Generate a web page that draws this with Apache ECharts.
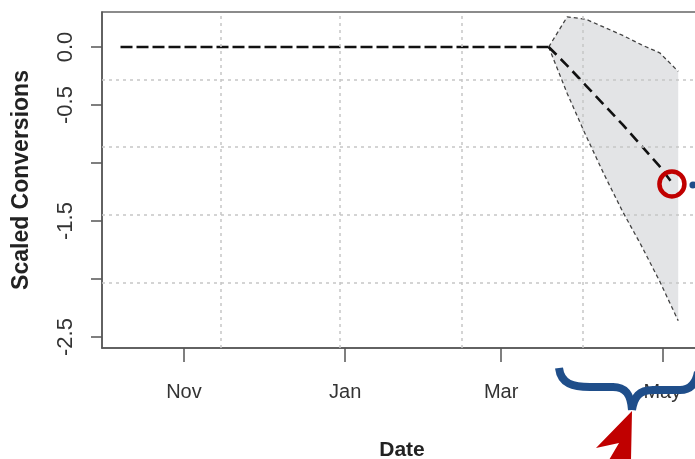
<!DOCTYPE html>
<html>
<head>
<meta charset="utf-8">
<script src="https://cdn.jsdelivr.net/npm/echarts@6/dist/echarts.min.js"></script>
<style>
html, body { margin: 0; padding: 0; background: #fff; }
#chart { width: 695px; height: 459px; }
</style>
</head>
<body>
<div id="chart"></div>
<script>
// flat part of the scaled series (before the change)
var baseDates = ['2017-10-08', '2018-03-19'];
var baseValues = [0, 0];
// mean after the change
var meanDates = ['2018-03-19', '2018-03-26', '2018-04-02', '2018-04-09', '2018-04-16', '2018-04-23', '2018-04-30', '2018-05-05'];
var meanValues = [0, -0.16, -0.33, -0.50, -0.67, -0.85, -1.03, -1.18];
// interval band
var bandDates = ['2018-03-19', '2018-03-26', '2018-04-02', '2018-04-09', '2018-04-16', '2018-04-23', '2018-04-30', '2018-05-07'];
var upperValues = [0, 0.26, 0.24, 0.17, 0.10, 0.02, -0.05, -0.21];
var lowerValues = [0, -0.40, -0.76, -1.10, -1.42, -1.71, -2.02, -2.36];
// axes
var monthTicks = ['2017-11-01', '2018-01-01', '2018-03-01', '2018-05-01'];
var monthNames = ['Jan', 'Feb', 'Mar', 'Apr', 'May', 'Jun', 'Jul', 'Aug', 'Sep', 'Oct', 'Nov', 'Dec'];
var yTicks = [0, -0.5, -1, -1.5, -2, -2.5];
var yLabels = [0, -0.5, -1.5, -2.5];
// dotted grid
var gridDates = ['2017-11-15', '2017-12-30', '2018-02-14', '2018-04-01'];
var gridValues = [-0.276, -0.862, -1.448, -2.034];

// dates go on a plain value axis as day stamps
function ts(s) { return new Date(s + 'T00:00:00').getTime(); }
function pairs(d, v) {
    var out = [];
    for (var i = 0; i < d.length; i++) out.push([ts(d[i]), v[i]]);
    return out;
}
var bandData = [];
for (var i = 0; i < bandDates.length; i++) bandData.push([ts(bandDates[i]), lowerValues[i], upperValues[i]]);

var markData = [];
gridDates.forEach(function (d) { markData.push({ xAxis: ts(d) }); });
gridValues.forEach(function (v) { markData.push({ yAxis: v }); });

var chart = echarts.init(document.getElementById('chart'));
var option = {
    animation: false,
    grid: {
        left: 102, right: -7, top: 12, bottom: 111,
        outerBoundsMode: 'none', containLabel: false,
        show: true, borderColor: '#666', borderWidth: 1.5
    },
    xAxis: {
        type: 'value',
        min: ts('2017-10-01'),
        max: ts('2018-05-16'),
        name: 'Date',
        nameLocation: 'middle',
        nameGap: 92,
        nameTextStyle: { fontFamily: 'Liberation Sans', fontWeight: 'bold', fontSize: 21, color: '#222' },
        axisLine: { show: true, onZero: false, lineStyle: { color: '#555', width: 1.5 } },
        axisTick: { show: true, length: 14, customValues: monthTicks.map(ts), lineStyle: { color: '#555', width: 1.5 } },
        axisLabel: {
            customValues: monthTicks.map(ts),
            margin: 34,
            fontSize: 20,
            fontFamily: 'Liberation Sans',
            color: '#333',
            formatter: function (v) { return monthNames[new Date(v).getMonth()]; }
        },
        splitLine: { show: false }
    },
    yAxis: {
        type: 'value',
        min: -2.5948,
        max: 0.3017,
        name: 'Scaled Conversions',
        nameLocation: 'middle',
        nameGap: 69,
        nameTextStyle: { fontFamily: 'Liberation Sans', fontWeight: 'bold', fontSize: 23, color: '#222' },
        axisLine: { show: true, onZero: false, lineStyle: { color: '#555', width: 1.5 } },
        axisTick: { show: true, length: 11, customValues: yTicks, lineStyle: { color: '#555', width: 1.5 } },
        axisLabel: {
            customValues: yLabels,
            rotate: 90,
            margin: 25,
            fontSize: 22,
            fontFamily: 'Liberation Sans',
            color: '#333',
            formatter: function (v) { return v.toFixed(1); }
        },
        splitLine: { show: false }
    },
    series: [
        {
            name: 'band', type: 'custom', data: bandData, silent: true, z: 1,
            renderItem: function (params, api) {
                if (params.dataIndex !== 0) return null;
                var pts = [];
                for (var k = 0; k < bandData.length; k++) pts.push(api.coord([bandData[k][0], bandData[k][2]]));
                for (var k = bandData.length - 1; k >= 0; k--) pts.push(api.coord([bandData[k][0], bandData[k][1]]));
                return { type: 'polygon', shape: { points: pts }, style: { fill: '#e3e4e6' } };
            }
        },
        {
            name: 'upper', type: 'line', data: pairs(bandDates, upperValues), symbol: 'none',
            lineStyle: { color: '#444', width: 1.3, type: [4, 3] }, z: 3
        },
        {
            name: 'lower', type: 'line', data: pairs(bandDates, lowerValues), symbol: 'none',
            lineStyle: { color: '#444', width: 1.3, type: [4, 3] }, z: 3
        },
        {
            name: 'base', type: 'line', data: pairs(baseDates, baseValues), symbol: 'none',
            lineStyle: { color: '#111', width: 2.6, type: [12, 4] }, z: 4,
            markLine: {
                silent: true, symbol: 'none', animation: false,
                label: { show: false },
                lineStyle: { color: '#c6c6c6', width: 1.5, type: [3, 4] },
                data: markData
            }
        },
        {
            name: 'mean', type: 'line', data: pairs(meanDates, meanValues), symbol: 'none',
            lineStyle: { color: '#111', width: 2.6, type: [11, 6] }, z: 4
        }
    ]
};
chart.setOption(option);

// annotations
var last = meanDates.length - 1;
var pt = chart.convertToPixel({ gridIndex: 0 }, [ts(meanDates[last]), meanValues[last]]);
var blue = '#1f4e8a';
var red = '#c00000';
chart.setOption({
    graphic: [
        { type: 'circle', z: 100, shape: { cx: pt[0] - 1, cy: pt[1], r: 12.5 }, style: { fill: 'none', stroke: red, lineWidth: 4.5 } },
        { type: 'circle', z: 100, shape: { cx: pt[0] + 20, cy: pt[1] + 1, r: 3.5 }, style: { fill: blue } },
        { type: 'bezierCurve', z: 100, shape: { x1: 559, y1: 368, cpx1: 561, cpy1: 384, cpx2: 573, cpy2: 387, x2: 590, y2: 387 }, style: { stroke: blue, lineWidth: 8, fill: 'none' } },
        { type: 'line', z: 100, shape: { x1: 589, y1: 387, x2: 614, y2: 387 }, style: { stroke: blue, lineWidth: 8 } },
        { type: 'bezierCurve', z: 100, shape: { x1: 613, y1: 387, cpx1: 626, cpy1: 387, cpx2: 631, cpy2: 395, x2: 632, y2: 410 }, style: { stroke: blue, lineWidth: 8, fill: 'none' } },
        { type: 'bezierCurve', z: 100, shape: { x1: 632, y1: 410, cpx1: 634, cpy1: 397, cpx2: 639, cpy2: 390, x2: 653, y2: 390 }, style: { stroke: blue, lineWidth: 8, fill: 'none' } },
        { type: 'line', z: 100, shape: { x1: 652, y1: 390, x2: 681, y2: 390 }, style: { stroke: blue, lineWidth: 8 } },
        { type: 'bezierCurve', z: 100, shape: { x1: 680, y1: 390, cpx1: 691, cpy1: 390, cpx2: 696, cpy2: 383, x2: 698, y2: 372 }, style: { stroke: blue, lineWidth: 8, fill: 'none' } },
        { type: 'polygon', z: 101, shape: { points: [[632, 411], [631, 460], [609, 460], [619, 443], [596, 448]] }, style: { fill: red } }
    ]
});
</script>
</body>
</html>
